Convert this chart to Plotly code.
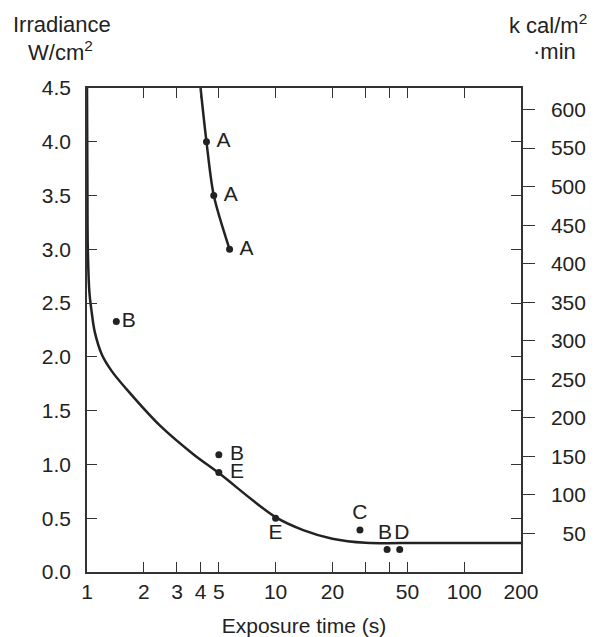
import numpy as np
import plotly.graph_objects as go

# ---- data ----
# main exposure curve (W/cm2 vs s)
curve_x = [1.0, 1.005, 1.01, 1.03, 1.06, 1.1, 1.2, 1.35, 1.62, 2.44, 3.66, 5.0, 10, 14, 20, 30, 60, 200]
curve_y = [4.5, 3.6, 3.0, 2.6, 2.41, 2.23, 2.02, 1.87, 1.70, 1.36, 1.095, 0.92, 0.51, 0.39, 0.31, 0.272, 0.27, 0.27]

# steep "A" curve
a_curve_x = [4.0, 4.3, 4.7, 5.7]
a_curve_y = [4.5, 4.0, 3.5, 3.0]

# labelled observation points
pt_x = [4.3, 4.7, 5.7, 1.43, 5.0, 5.0, 10.0, 28.0, 39.0, 45.5]
pt_y = [4.0, 3.5, 3.0, 2.33, 1.09, 0.925, 0.50, 0.39, 0.21, 0.21]
pt_label = ["A", "A", "A", "B", "B", "E", "E", "C", "B", "D"]
pt_textpos = ["middle right", "middle right", "middle right", "middle right",
              "middle right", "middle right", "bottom center", "top center",
              "top center", "top center"]
pt_pre = [" ", " ", " ", "", " ", " ", "", "", "", "\u2009"]
pt_post = ["", "", "", "", "", "", "", "", "\u2009", ""]

# axes
x_ticks = [1, 2, 3, 4, 5, 10, 20, 30, 40, 50, 100, 200]
x_ticktext = ["1", "2", "3", "4", "5", "10", "20", "", "", "50", "100", "200"]
y_ticks = [0.0, 0.5, 1.0, 1.5, 2.0, 2.5, 3.0, 3.5, 4.0, 4.5]
y2_ticks = [50, 100, 150, 200, 250, 300, 350, 400, 450, 500, 550, 600]
y2_ticktext = ["\u2007" + "50"] + [str(v) for v in y2_ticks[1:]]
y2_max = 628

INK = "#222222"
AX = "#333333"
FONT = "Liberation Sans, Arial, Helvetica, sans-serif"

fig = go.Figure()

fig.add_trace(go.Scatter(x=curve_x, y=curve_y, mode="lines",
                         line=dict(color=INK, width=2.5, shape="spline", smoothing=1.0),
                         showlegend=False, hoverinfo="skip"))
fig.add_trace(go.Scatter(x=a_curve_x, y=a_curve_y, mode="lines",
                         line=dict(color=INK, width=2.5, shape="spline", smoothing=0.8),
                         showlegend=False, hoverinfo="skip"))
fig.add_trace(go.Scatter(x=pt_x, y=pt_y, mode="markers+text",
                         marker=dict(color=INK, size=7),
                         text=[a + t + b for a, t, b in zip(pt_pre, pt_label, pt_post)],
                         textposition=pt_textpos,
                         textfont=dict(family=FONT, size=21, color=INK),
                         showlegend=False, cliponaxis=False, hoverinfo="skip"))
# carrier trace so the right-hand axis is drawn
fig.add_trace(go.Scatter(x=[1, 200], y=[0, 0], yaxis="y2", mode="lines",
                         line=dict(width=0, color="rgba(0,0,0,0)"),
                         showlegend=False, hoverinfo="skip"))

fig.update_layout(
    width=589, height=629,
    margin=dict(l=79, r=76, t=80, b=65, autoexpand=False),
    paper_bgcolor="white", plot_bgcolor="white",
    font=dict(family=FONT, size=21, color=INK),
    xaxis=dict(type="log", range=[0, np.log10(200)],
               tickvals=x_ticks, ticktext=x_ticktext,
               ticks="inside", ticklen=10, tickwidth=1.3, tickcolor=AX,
               showline=True, linecolor=AX, linewidth=1.5, mirror="ticks",
               showgrid=False, zeroline=False, automargin=False,
               tickfont=dict(size=21, color=INK),
               title=dict(text="Exposure time (s)", font=dict(size=21, color=INK), standoff=27)),
    yaxis=dict(range=[0, 4.5], tickvals=y_ticks, tickformat=".1f",
               ticks="inside", ticklen=10, tickwidth=1.3, tickcolor=AX,
               showline=True, linecolor=AX, linewidth=1.5, mirror="ticks",
               showgrid=False, zeroline=False, ticklabelstandoff=10, automargin=False,
               tickfont=dict(size=21, color=INK)),
    yaxis2=dict(overlaying="y", side="right", range=[0, y2_max],
                tickvals=y2_ticks, ticktext=y2_ticktext,
                ticks="outside", ticklen=12, tickwidth=1.3, tickcolor=AX,
                showline=True, linecolor=AX, linewidth=1.5,
                showgrid=False, zeroline=False, ticklabelstandoff=12, automargin=False,
                tickfont=dict(size=21, color=INK)),
    annotations=[
        dict(text="Irradiance", x=-0.0576, y=1.132, xref="paper", yref="paper",
             xanchor="center", yanchor="middle", showarrow=False, font=dict(size=22, color=INK)),
        dict(text="W/cm<sup>2</sup>", x=-0.06, y=1.076, xref="paper", yref="paper",
             xanchor="center", yanchor="middle", showarrow=False, font=dict(size=22, color=INK)),
        dict(text="k cal/m<sup>2</sup>", x=1.157, y=1.132, xref="paper", yref="paper",
             xanchor="right", yanchor="middle", showarrow=False, font=dict(size=22, color=INK)),
        dict(text="\u00b7min", x=1.078, y=1.076, xref="paper", yref="paper",
             xanchor="center", yanchor="middle", showarrow=False, font=dict(size=22, color=INK)),
    ],
)

fig.write_html("out.html")
